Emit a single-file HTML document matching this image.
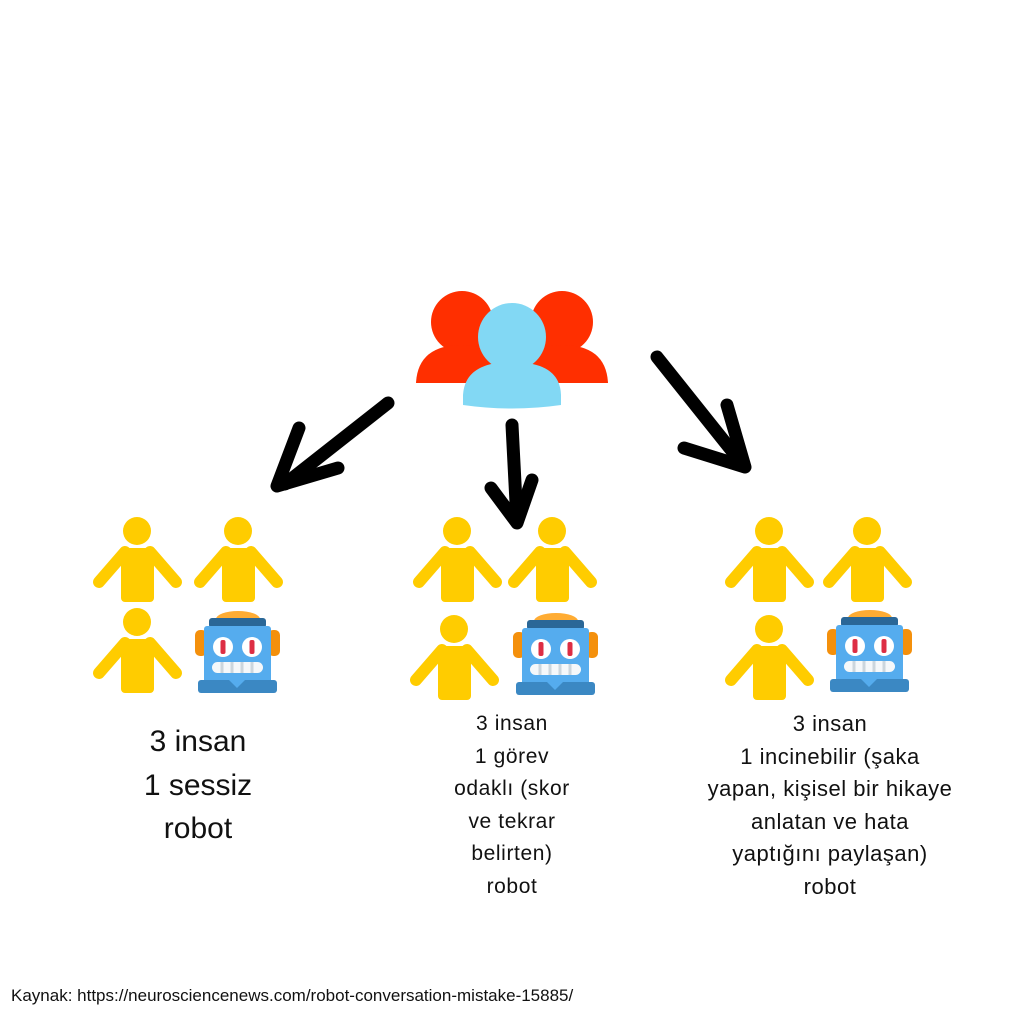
<!DOCTYPE html>
<html><head><meta charset="utf-8"><style>
html,body{margin:0;padding:0;background:#fff;}
body{width:1024px;height:1024px;position:relative;overflow:hidden;font-family:"Liberation Sans",sans-serif;}
.t{position:absolute;text-align:center;color:#111;white-space:nowrap;}
</style></head><body>
<svg width="1024" height="1024" style="position:absolute;left:0;top:0">
<defs>
<g id="p">
<circle cx="0" cy="0" r="14" fill="#FFCC00"/>
<rect x="-16" y="17" width="33" height="54" rx="4" fill="#FFCC00"/>
<path d="M-12 21 L-38 51 M13 21 L39 51" stroke="#FFCC00" stroke-width="12" stroke-linecap="round" fill="none"/>
</g>
<g id="r">
<ellipse cx="43" cy="9" rx="22" ry="8" fill="#FFAC33"/>
<rect x="0" y="20" width="12" height="26" rx="5" fill="#F4900C"/>
<rect x="73" y="20" width="12" height="26" rx="5" fill="#F4900C"/>
<rect x="14" y="8" width="57" height="10" rx="3" fill="#2A6797"/>
<rect x="9" y="16" width="67" height="58" rx="3" fill="#55ACEE"/>
<circle cx="28" cy="37" r="10" fill="#fff"/>
<circle cx="57" cy="37" r="10" fill="#fff"/>
<rect x="25.5" y="30" width="5" height="14" rx="2" fill="#DD2E44"/>
<rect x="54.5" y="30" width="5" height="14" rx="2" fill="#DD2E44"/>
<rect x="17" y="52" width="51" height="11" rx="5.5" fill="#F5F8FA"/>
<path d="M27 52v11M37 52v11M47 52v11M57 52v11" stroke="#CCD6DD" stroke-width="3"/>
<rect x="3" y="70" width="79" height="13" rx="3" fill="#3B88C3"/>
<path d="M34 70 L42 78 L50 70Z" fill="#55ACEE"/>
</g>
</defs>
<circle cx="462" cy="322" r="31" fill="#FF2F00"/>
<circle cx="562" cy="322" r="31" fill="#FF2F00"/>
<path d="M416 383 Q418 345 462 345 Q500 345 510 383Z" fill="#FF2F00"/>
<path d="M514 383 Q524 345 562 345 Q606 345 608 383Z" fill="#FF2F00"/>
<circle cx="512" cy="337" r="34" fill="#82D8F4"/>
<path d="M463 405 L463 395 Q465 362 512 362 Q560 362 561 395 L561 405 Q512 412 463 405Z" fill="#82D8F4"/>
<g stroke="#000" stroke-width="13" stroke-linecap="round" stroke-linejoin="round" fill="none">
<path d="M388 403 L285 484"/>
<path d="M299 428 L277 486 L338 468"/>
<path d="M512 425 L517 522"/>
<path d="M491 488 L517 523 L532 480"/>
<path d="M657 357 L744 466"/>
<path d="M727 405 L745 467 L684 448"/>
</g>
<use href="#p" x="137" y="531"/><use href="#p" x="238" y="531"/><use href="#p" x="137" y="622"/>
<use href="#r" x="195" y="610"/>
<use href="#p" x="457" y="531"/><use href="#p" x="552" y="531"/><use href="#p" x="454" y="629"/>
<use href="#r" x="513" y="612"/>
<use href="#p" x="769" y="531"/><use href="#p" x="867" y="531"/><use href="#p" x="769" y="629"/>
<use href="#r" x="827" y="609"/>
</svg>
<div class="t" style="left:98px;width:200px;top:720px;font-size:30px;line-height:43.5px;">3 insan<br>1 sessiz<br>robot</div>
<div class="t" style="left:412px;width:200px;top:708px;font-size:21px;line-height:32.6px;letter-spacing:0.6px;">3 insan<br>1 görev<br>odaklı (skor<br>ve tekrar<br>belirten)<br>robot</div>
<div class="t" style="left:680px;width:300px;top:708px;font-size:22px;line-height:32.6px;letter-spacing:0.5px;">3 insan<br>1 incinebilir (şaka<br>yapan, kişisel bir hikaye<br>anlatan ve hata<br>yaptığını paylaşan)<br>robot</div>
<div class="t" style="left:11px;top:986px;font-size:17px;text-align:left;">Kaynak: https://neurosciencenews.com/robot-conversation-mistake-15885/</div>
</body></html>
